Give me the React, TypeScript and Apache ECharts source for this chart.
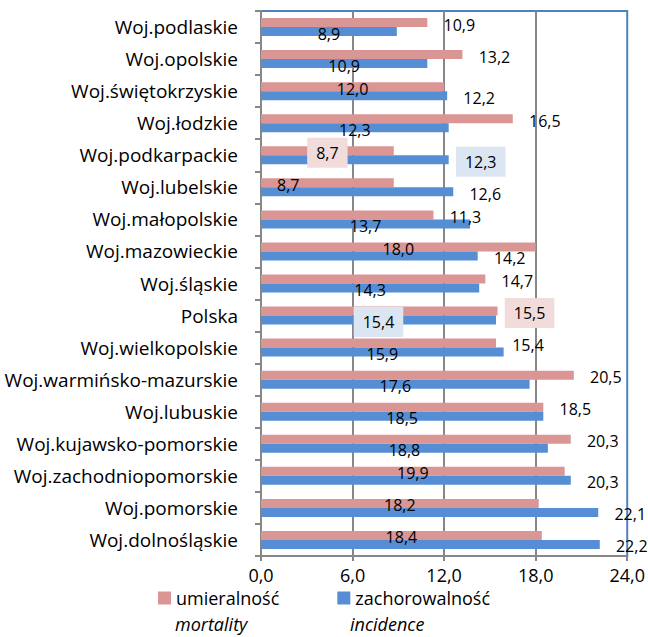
import React, { useEffect, useRef } from "react";
import * as echarts from "echarts";

const categories = [
  "Woj.podlaskie",
  "Woj.opolskie",
  "Woj.świętokrzyskie",
  "Woj.łodzkie",
  "Woj.podkarpackie",
  "Woj.lubelskie",
  "Woj.małopolskie",
  "Woj.mazowieckie",
  "Woj.śląskie",
  "Polska",
  "Woj.wielkopolskie",
  "Woj.warmińsko-mazurskie",
  "Woj.lubuskie",
  "Woj.kujawsko-pomorskie",
  "Woj.zachodniopomorskie",
  "Woj.pomorskie",
  "Woj.dolnośląskie",
];

const mortality = [10.9, 13.2, 12.0, 16.5, 8.7, 8.7, 11.3, 18.0, 14.7, 15.5, 15.4, 20.5, 18.5, 20.3, 19.9, 18.2, 18.4];
const incidence = [8.9, 10.9, 12.2, 12.3, 12.3, 12.6, 13.7, 14.2, 14.3, 15.4, 15.9, 17.6, 18.5, 18.8, 20.3, 22.1, 22.2];

const xTicks = { min: 0, max: 24, interval: 6 };

// label placement style per data point: "in" = centre of bar, "out" = past bar end, "base" = near bar base
const mortLabelMode = ["out", "out", "in", "out", "in", "base", "out", "in", "out", "out", "out", "out", "out", "out", "in", "in", "in"];
const incLabelMode = ["in", "in", "out", "in", "out", "out", "in", "out", "in", "in", "in", "in", "in", "in", "out", "out", "out"];
const boxedCategories = ["Woj.podkarpackie", "Polska"];

const PINK = "#D99694";
const BLUE = "#558ED5";
const PINK_BOX = "#F2DCDB";
const BLUE_BOX = "#DCE6F2";
const GRID_GRAY = "#878787";
const FONT = "Open Sans";

const fmt = (v: number) => v.toFixed(1).replace(".", ",");

function labelFor(mode: string, boxed: boolean, boxColor: string) {
  const base: any = {
    show: true,
    fontFamily: FONT,
    fontSize: 16,
    color: "#000",
    offset: [0, 2],
    formatter: (p: any) => fmt(p.value),
  };
  if (mode === "in") {
    base.position = "inside";
  } else if (mode === "base") {
    base.position = "insideLeft";
    base.distance = 16;
  } else {
    base.position = "right";
    base.distance = 32;
    base.align = "center";
  }
  if (boxed) {
    base.backgroundColor = boxColor;
    base.padding = [7, 9];
  }
  return base;
}

export default function App() {
  const ref = useRef<HTMLDivElement>(null);
  useEffect(() => {
    document.body.style.margin = "0";
    if (!ref.current) return;
    const chart = echarts.init(ref.current, null, { renderer: "svg" });
    const mortData = mortality.map((v, i) => ({
      value: v,
      label: labelFor(mortLabelMode[i], boxedCategories.includes(categories[i]), PINK_BOX),
    }));
    const incData = incidence.map((v, i) => ({
      value: v,
      label: labelFor(incLabelMode[i], boxedCategories.includes(categories[i]), BLUE_BOX),
    }));
    chart.setOption({
      animation: false,
      textStyle: { fontFamily: FONT },
      grid: {
        left: 261,
        right: 20,
        top: 11,
        bottom: 81,
        show: true,
        borderColor: "#4F81BD",
        borderWidth: 2,
        backgroundColor: "transparent",
      },
      legend: {
        left: 158,
        top: 589,
        padding: 0,
        icon: "rect",
        itemWidth: 13,
        itemHeight: 13,
        itemGap: 58,
        textStyle: { fontFamily: FONT, fontSize: 18, color: "#000" },
        data: ["umieralność", "zachorowalność"],
      },
      xAxis: {
        type: "value",
        min: xTicks.min,
        max: xTicks.max,
        interval: xTicks.interval,
        axisLine: { show: true, lineStyle: { color: GRID_GRAY, width: 2 } },
        axisTick: { show: true, length: 5, lineStyle: { color: GRID_GRAY, width: 2 } },
        axisLabel: {
          fontFamily: FONT,
          fontSize: 18,
          color: "#000",
          margin: 10,
          formatter: (v: number) => fmt(v),
        },
        splitLine: {
          show: true,
          showMinLine: false,
          showMaxLine: false,
          lineStyle: { color: GRID_GRAY, width: 2 },
        },
      },
      yAxis: {
        type: "category",
        data: categories,
        inverse: true,
        axisLine: { show: true, lineStyle: { color: GRID_GRAY, width: 2 } },
        axisTick: { show: true, length: 6, inside: false, lineStyle: { color: GRID_GRAY, width: 2 } },
        axisLabel: { fontFamily: FONT, fontSize: 19, color: "#000", margin: 23 },
        splitLine: { show: false },
      },
      series: [
        {
          name: "umieralność",
          type: "bar",
          data: mortData,
          barWidth: 9,
          barGap: "0%",
          itemStyle: { color: PINK },
        },
        {
          name: "zachorowalność",
          type: "bar",
          data: incData,
          barWidth: 9,
          barGap: "0%",
          itemStyle: { color: BLUE },
        },
      ],
      graphic: [
        {
          type: "text",
          left: 175,
          top: 615,
          style: { text: "mortality", fontFamily: FONT, fontSize: 18, fontStyle: "italic", fill: "#000" },
        },
        {
          type: "text",
          left: 350,
          top: 615,
          style: { text: "incidence", fontFamily: FONT, fontSize: 18, fontStyle: "italic", fill: "#000" },
        },
      ],
    });
    return () => chart.dispose();
  }, []);
  return <div ref={ref} style={{ width: 648, height: 637 }} />;
}
